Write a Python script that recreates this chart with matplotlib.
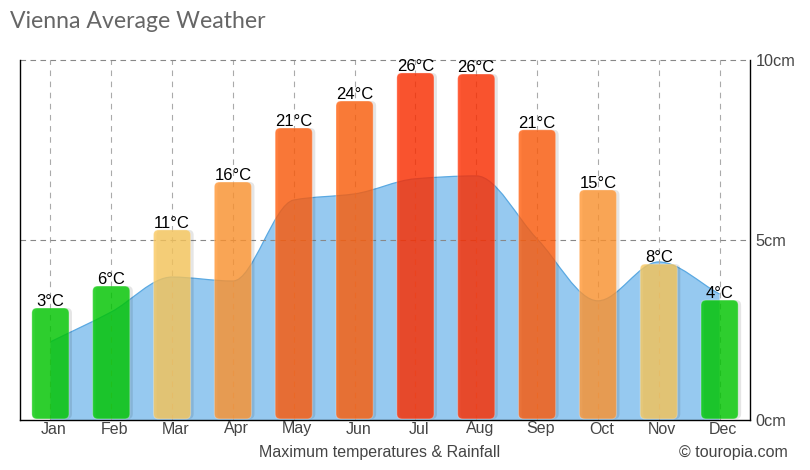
import numpy as np
import matplotlib
matplotlib.use("Agg")
import matplotlib.pyplot as plt
from matplotlib.patches import FancyBboxPatch, PathPatch
from matplotlib.path import Path
from matplotlib.transforms import Affine2D, offset_copy

months = ["Jan","Feb","Mar","Apr","May","Jun","Jul","Aug","Sep","Oct","Nov","Dec"]
temp_labels = ["3°C","6°C","11°C","16°C","21°C","24°C","26°C","26°C","21°C","15°C","8°C","4°C"]
# bar heights, read on the right-hand scale
bar_heights = [3.11,3.72,5.28,6.61,8.11,8.86,9.64,9.61,8.06,6.39,4.33,3.33]
bar_colors = ["#00c900","#00c900","#f9c75c","#ff9531","#ff5c0b","#ff5f0b","#ff2e00",
              "#ff2e00","#ff5c0b","#ff9531","#f9c75c","#00c900"]
rain_cm = [2.17,3.0,3.97,3.86,6.11,6.28,6.7,6.78,5.03,3.31,4.39,3.5]

plt.rcParams["font.family"] = ["Liberation Sans", "DejaVu Sans"]
fig = plt.figure(figsize=(8.1, 4.7), dpi=100)
ax = fig.add_axes([20.0/810, 50/470, 730/810, 360/470])
ax.set_xlim(-0.5, 11.5)
ax.set_ylim(0, 10)

# grid
for x in range(12):
    ax.axvline(x, color="#aaaaaa", lw=0.8, ls=(0, (5, 5)), zorder=1)
ax.axhline(5, color="#888888", lw=0.8, ls=(0, (5, 4)), zorder=1)
ax.axhline(10, color="#888888", lw=0.8, ls=(0, (5, 4)), zorder=1, clip_on=False)

# rainfall area: flat-at-extremes cubic Bezier through the monthly values
xs = np.arange(12, dtype=float)
ys = np.array(rain_cm)
d = np.diff(ys)
m = np.zeros(12)
for i in range(1, 11):
    if d[i-1] * d[i] > 0:
        m[i] = 2 * d[i-1] * d[i] / (d[i-1] + d[i])
m[0], m[-1] = d[0], d[-1]
verts = [(xs[0], 0), (xs[0], ys[0])]
codes = [Path.MOVETO, Path.LINETO]
for i in range(11):
    verts += [(xs[i]+1/3, ys[i]+m[i]/3), (xs[i+1]-1/3, ys[i+1]-m[i+1]/3), (xs[i+1], ys[i+1])]
    codes += [Path.CURVE4]*3
line_verts, line_codes = verts[1:], [Path.MOVETO]+codes[2:]
verts_area = verts + [(xs[-1], 0), (xs[0], 0)]
codes_area = codes + [Path.LINETO, Path.CLOSEPOLY]
ax.add_patch(PathPatch(Path(verts_area, codes_area), fc="#96c9f0", ec="none", zorder=0.5))
ax.add_patch(PathPatch(Path(line_verts, line_codes), fc="none", ec="#5aa9e2", lw=0.9, zorder=0.6))

# bars with shadow
bw = 0.61
r = 5/60.8
aspect = (1/36)/(1/60.8)
shift = Affine2D().translate(3, 0)
base = 0.03
style = f"round,pad=0,rounding_size={r}"
for i, (h, c) in enumerate(zip(bar_heights, bar_colors)):
    ax.add_patch(FancyBboxPatch((i-bw/2, base), bw, h-base, boxstyle=style, mutation_aspect=aspect,
                                fc="#000000", ec="none", alpha=0.10,
                                transform=ax.transData+shift, zorder=2))
    ax.add_patch(FancyBboxPatch((i-bw/2, base), bw, h-base, boxstyle=style, mutation_aspect=aspect,
                                fc=c, ec="none", alpha=0.8, zorder=3))
    ax.add_patch(FancyBboxPatch((i-bw/2, base), bw, h-base, boxstyle=style, mutation_aspect=aspect,
                                fc="none", ec="#ffffff", lw=0.8, alpha=0.25, zorder=3.5))
    ax.annotate(temp_labels[i], (i, h), xytext=(0, -0.5), textcoords="offset points", ha="center",
                va="bottom", fontsize=12, color="black", zorder=5)

# axes
for s in ["left", "bottom", "right"]:
    ax.spines[s].set_linewidth(1.0)
    ax.spines[s].set_color("black")
ax.spines["top"].set_visible(False)
ax.set_xticks(range(12))
ax.set_xticklabels([])
ax.tick_params(axis="x", length=0)
label_tf = offset_copy(ax.get_xaxis_transform(), fig=fig, x=3.5, y=-9, units="dots")
for i, name in enumerate(months):
    ax.text(i, 0, name, transform=label_tf, ha="center", va="center", fontsize=11.5,
            color="#444444", clip_on=False)
ax.yaxis.tick_right()
ax.set_yticks([0, 5, 10])
ax.set_yticklabels(["0cm", "5cm", "10cm"], fontsize=11.7, color="#444444")
ax.tick_params(axis="y", length=0, pad=4)

fig.text(380/810, 1-452/470, "Maximum temperatures & Rainfall", ha="center", va="center", fontsize=11.5, color="#444444")
fig.text(788/810, 1-452/470, "© touropia.com", ha="right", va="center", fontsize=11.5, color="#444444")
fig.text(10/810, 1-21/470, "Vienna Average Weather", ha="left", va="center", fontsize=16.6,
         color="#666666", family="Lato", weight="normal")
fig.savefig("out.png", dpi=100)
